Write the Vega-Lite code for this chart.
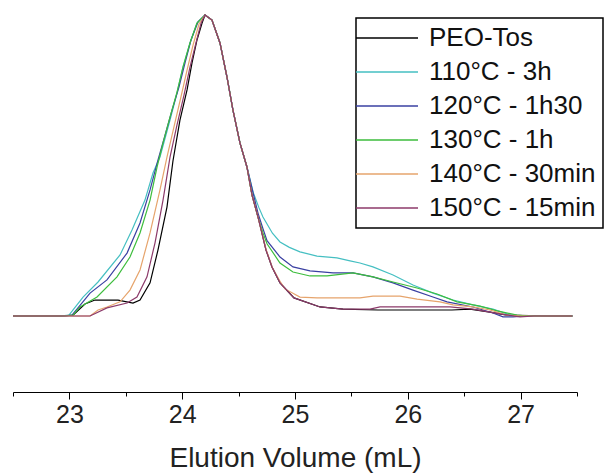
{
  "$schema": "https://vega.github.io/schema/vega-lite/v6.json",
  "width": 564,
  "height": 377,
  "autosize": "none",
  "padding": {"left": 13, "top": 15, "right": 32, "bottom": 81},
  "background": "white",
  "config": {"view": {"stroke": null}},
  "datasets": {
    "curves": [
      {"series": "PEO-Tos", "volume": 22.5, "signal": 0},
      {"series": "PEO-Tos", "volume": 22.917, "signal": 0},
      {"series": "PEO-Tos", "volume": 23.032, "signal": 0.003},
      {"series": "PEO-Tos", "volume": 23.138, "signal": 0.04},
      {"series": "PEO-Tos", "volume": 23.227, "signal": 0.053},
      {"series": "PEO-Tos", "volume": 23.431, "signal": 0.053},
      {"series": "PEO-Tos", "volume": 23.564, "signal": 0.043},
      {"series": "PEO-Tos", "volume": 23.626, "signal": 0.053},
      {"series": "PEO-Tos", "volume": 23.715, "signal": 0.11},
      {"series": "PEO-Tos", "volume": 23.785, "signal": 0.219},
      {"series": "PEO-Tos", "volume": 23.865, "signal": 0.362},
      {"series": "PEO-Tos", "volume": 23.918, "signal": 0.515},
      {"series": "PEO-Tos", "volume": 23.98, "signal": 0.651},
      {"series": "PEO-Tos", "volume": 24.043, "signal": 0.751},
      {"series": "PEO-Tos", "volume": 24.087, "signal": 0.841},
      {"series": "PEO-Tos", "volume": 24.131, "signal": 0.917},
      {"series": "PEO-Tos", "volume": 24.176, "signal": 0.973},
      {"series": "PEO-Tos", "volume": 24.202, "signal": 1},
      {"series": "PEO-Tos", "volume": 24.264, "signal": 0.983},
      {"series": "PEO-Tos", "volume": 24.335, "signal": 0.907},
      {"series": "PEO-Tos", "volume": 24.397, "signal": 0.794},
      {"series": "PEO-Tos", "volume": 24.45, "signal": 0.684},
      {"series": "PEO-Tos", "volume": 24.512, "signal": 0.575},
      {"series": "PEO-Tos", "volume": 24.574, "signal": 0.495},
      {"series": "PEO-Tos", "volume": 24.619, "signal": 0.402},
      {"series": "PEO-Tos", "volume": 24.672, "signal": 0.329},
      {"series": "PEO-Tos", "volume": 24.743, "signal": 0.219},
      {"series": "PEO-Tos", "volume": 24.796, "signal": 0.163},
      {"series": "PEO-Tos", "volume": 24.867, "signal": 0.11},
      {"series": "PEO-Tos", "volume": 24.991, "signal": 0.06},
      {"series": "PEO-Tos", "volume": 25.222, "signal": 0.03},
      {"series": "PEO-Tos", "volume": 25.426, "signal": 0.023},
      {"series": "PEO-Tos", "volume": 25.736, "signal": 0.02},
      {"series": "PEO-Tos", "volume": 26.392, "signal": 0.02},
      {"series": "PEO-Tos", "volume": 26.551, "signal": 0.023},
      {"series": "PEO-Tos", "volume": 26.729, "signal": 0.013},
      {"series": "PEO-Tos", "volume": 26.879, "signal": 0.003},
      {"series": "PEO-Tos", "volume": 27.261, "signal": 0},
      {"series": "PEO-Tos", "volume": 27.46, "signal": 0},

      {"series": "110°C - 3h", "volume": 22.5, "signal": 0},
      {"series": "110°C - 3h", "volume": 22.917, "signal": 0},
      {"series": "110°C - 3h", "volume": 22.996, "signal": 0.003},
      {"series": "110°C - 3h", "volume": 23.121, "signal": 0.063},
      {"series": "110°C - 3h", "volume": 23.254, "signal": 0.113},
      {"series": "110°C - 3h", "volume": 23.449, "signal": 0.203},
      {"series": "110°C - 3h", "volume": 23.555, "signal": 0.286},
      {"series": "110°C - 3h", "volume": 23.67, "signal": 0.385},
      {"series": "110°C - 3h", "volume": 23.741, "signal": 0.475},
      {"series": "110°C - 3h", "volume": 23.803, "signal": 0.528},
      {"series": "110°C - 3h", "volume": 23.892, "signal": 0.651},
      {"series": "110°C - 3h", "volume": 23.954, "signal": 0.741},
      {"series": "110°C - 3h", "volume": 24.007, "signal": 0.827},
      {"series": "110°C - 3h", "volume": 24.069, "signal": 0.907},
      {"series": "110°C - 3h", "volume": 24.131, "signal": 0.973},
      {"series": "110°C - 3h", "volume": 24.202, "signal": 1},
      {"series": "110°C - 3h", "volume": 24.264, "signal": 0.983},
      {"series": "110°C - 3h", "volume": 24.335, "signal": 0.907},
      {"series": "110°C - 3h", "volume": 24.397, "signal": 0.794},
      {"series": "110°C - 3h", "volume": 24.45, "signal": 0.684},
      {"series": "110°C - 3h", "volume": 24.512, "signal": 0.575},
      {"series": "110°C - 3h", "volume": 24.574, "signal": 0.495},
      {"series": "110°C - 3h", "volume": 24.63, "signal": 0.41},
      {"series": "110°C - 3h", "volume": 24.68, "signal": 0.36},
      {"series": "110°C - 3h", "volume": 24.716, "signal": 0.329},
      {"series": "110°C - 3h", "volume": 24.8, "signal": 0.275},
      {"series": "110°C - 3h", "volume": 24.867, "signal": 0.246},
      {"series": "110°C - 3h", "volume": 24.95, "signal": 0.228},
      {"series": "110°C - 3h", "volume": 25.044, "signal": 0.213},
      {"series": "110°C - 3h", "volume": 25.195, "signal": 0.199},
      {"series": "110°C - 3h", "volume": 25.372, "signal": 0.193},
      {"series": "110°C - 3h", "volume": 25.488, "signal": 0.183},
      {"series": "110°C - 3h", "volume": 25.576, "signal": 0.176},
      {"series": "110°C - 3h", "volume": 25.691, "signal": 0.163},
      {"series": "110°C - 3h", "volume": 25.869, "signal": 0.136},
      {"series": "110°C - 3h", "volume": 26.046, "signal": 0.103},
      {"series": "110°C - 3h", "volume": 26.223, "signal": 0.076},
      {"series": "110°C - 3h", "volume": 26.401, "signal": 0.053},
      {"series": "110°C - 3h", "volume": 26.578, "signal": 0.037},
      {"series": "110°C - 3h", "volume": 26.755, "signal": 0.023},
      {"series": "110°C - 3h", "volume": 26.879, "signal": 0.007},
      {"series": "110°C - 3h", "volume": 26.995, "signal": 0},
      {"series": "110°C - 3h", "volume": 27.46, "signal": 0},

      {"series": "120°C - 1h30", "volume": 22.5, "signal": 0},
      {"series": "120°C - 1h30", "volume": 22.95, "signal": 0},
      {"series": "120°C - 1h30", "volume": 23.023, "signal": 0.003},
      {"series": "120°C - 1h30", "volume": 23.183, "signal": 0.076},
      {"series": "120°C - 1h30", "volume": 23.333, "signal": 0.12},
      {"series": "120°C - 1h30", "volume": 23.511, "signal": 0.209},
      {"series": "120°C - 1h30", "volume": 23.626, "signal": 0.309},
      {"series": "120°C - 1h30", "volume": 23.715, "signal": 0.419},
      {"series": "120°C - 1h30", "volume": 23.785, "signal": 0.518},
      {"series": "120°C - 1h30", "volume": 23.848, "signal": 0.601},
      {"series": "120°C - 1h30", "volume": 23.91, "signal": 0.684},
      {"series": "120°C - 1h30", "volume": 23.972, "signal": 0.761},
      {"series": "120°C - 1h30", "volume": 24.025, "signal": 0.841},
      {"series": "120°C - 1h30", "volume": 24.078, "signal": 0.917},
      {"series": "120°C - 1h30", "volume": 24.14, "signal": 0.977},
      {"series": "120°C - 1h30", "volume": 24.202, "signal": 1},
      {"series": "120°C - 1h30", "volume": 24.264, "signal": 0.983},
      {"series": "120°C - 1h30", "volume": 24.335, "signal": 0.907},
      {"series": "120°C - 1h30", "volume": 24.397, "signal": 0.794},
      {"series": "120°C - 1h30", "volume": 24.45, "signal": 0.684},
      {"series": "120°C - 1h30", "volume": 24.512, "signal": 0.575},
      {"series": "120°C - 1h30", "volume": 24.574, "signal": 0.495},
      {"series": "120°C - 1h30", "volume": 24.628, "signal": 0.41},
      {"series": "120°C - 1h30", "volume": 24.672, "signal": 0.342},
      {"series": "120°C - 1h30", "volume": 24.716, "signal": 0.29},
      {"series": "120°C - 1h30", "volume": 24.752, "signal": 0.25},
      {"series": "120°C - 1h30", "volume": 24.867, "signal": 0.196},
      {"series": "120°C - 1h30", "volume": 24.982, "signal": 0.163},
      {"series": "120°C - 1h30", "volume": 25.133, "signal": 0.15},
      {"series": "120°C - 1h30", "volume": 25.337, "signal": 0.143},
      {"series": "120°C - 1h30", "volume": 25.514, "signal": 0.143},
      {"series": "120°C - 1h30", "volume": 25.691, "signal": 0.13},
      {"series": "120°C - 1h30", "volume": 25.869, "signal": 0.11},
      {"series": "120°C - 1h30", "volume": 26.046, "signal": 0.086},
      {"series": "120°C - 1h30", "volume": 26.223, "signal": 0.063},
      {"series": "120°C - 1h30", "volume": 26.348, "signal": 0.047},
      {"series": "120°C - 1h30", "volume": 26.578, "signal": 0.03},
      {"series": "120°C - 1h30", "volume": 26.755, "signal": 0.01},
      {"series": "120°C - 1h30", "volume": 26.844, "signal": -0.003},
      {"series": "120°C - 1h30", "volume": 26.933, "signal": -0.003},
      {"series": "120°C - 1h30", "volume": 27.04, "signal": 0},
      {"series": "120°C - 1h30", "volume": 27.46, "signal": 0},

      {"series": "130°C - 1h", "volume": 22.5, "signal": 0},
      {"series": "130°C - 1h", "volume": 22.95, "signal": 0},
      {"series": "130°C - 1h", "volume": 23.032, "signal": 0.003},
      {"series": "130°C - 1h", "volume": 23.094, "signal": 0.03},
      {"series": "130°C - 1h", "volume": 23.245, "signal": 0.063},
      {"series": "130°C - 1h", "volume": 23.422, "signal": 0.13},
      {"series": "130°C - 1h", "volume": 23.537, "signal": 0.196},
      {"series": "130°C - 1h", "volume": 23.626, "signal": 0.276},
      {"series": "130°C - 1h", "volume": 23.715, "signal": 0.385},
      {"series": "130°C - 1h", "volume": 23.777, "signal": 0.495},
      {"series": "130°C - 1h", "volume": 23.83, "signal": 0.575},
      {"series": "130°C - 1h", "volume": 23.892, "signal": 0.661},
      {"series": "130°C - 1h", "volume": 23.954, "signal": 0.744},
      {"series": "130°C - 1h", "volume": 24.007, "signal": 0.827},
      {"series": "130°C - 1h", "volume": 24.069, "signal": 0.907},
      {"series": "130°C - 1h", "volume": 24.131, "signal": 0.973},
      {"series": "130°C - 1h", "volume": 24.202, "signal": 1},
      {"series": "130°C - 1h", "volume": 24.264, "signal": 0.983},
      {"series": "130°C - 1h", "volume": 24.335, "signal": 0.907},
      {"series": "130°C - 1h", "volume": 24.397, "signal": 0.794},
      {"series": "130°C - 1h", "volume": 24.45, "signal": 0.684},
      {"series": "130°C - 1h", "volume": 24.512, "signal": 0.575},
      {"series": "130°C - 1h", "volume": 24.574, "signal": 0.495},
      {"series": "130°C - 1h", "volume": 24.619, "signal": 0.402},
      {"series": "130°C - 1h", "volume": 24.672, "signal": 0.329},
      {"series": "130°C - 1h", "volume": 24.716, "signal": 0.276},
      {"series": "130°C - 1h", "volume": 24.752, "signal": 0.24},
      {"series": "130°C - 1h", "volume": 24.867, "signal": 0.176},
      {"series": "130°C - 1h", "volume": 24.982, "signal": 0.146},
      {"series": "130°C - 1h", "volume": 25.133, "signal": 0.133},
      {"series": "130°C - 1h", "volume": 25.284, "signal": 0.133},
      {"series": "130°C - 1h", "volume": 25.514, "signal": 0.143},
      {"series": "130°C - 1h", "volume": 25.691, "signal": 0.13},
      {"series": "130°C - 1h", "volume": 25.869, "signal": 0.113},
      {"series": "130°C - 1h", "volume": 26.082, "signal": 0.093},
      {"series": "130°C - 1h", "volume": 26.259, "signal": 0.073},
      {"series": "130°C - 1h", "volume": 26.436, "signal": 0.047},
      {"series": "130°C - 1h", "volume": 26.64, "signal": 0.033},
      {"series": "130°C - 1h", "volume": 26.791, "signal": 0.017},
      {"series": "130°C - 1h", "volume": 26.968, "signal": 0.003},
      {"series": "130°C - 1h", "volume": 27.07, "signal": 0},
      {"series": "130°C - 1h", "volume": 27.46, "signal": 0},

      {"series": "140°C - 30min", "volume": 22.5, "signal": 0},
      {"series": "140°C - 30min", "volume": 23.183, "signal": 0},
      {"series": "140°C - 30min", "volume": 23.254, "signal": 0.02},
      {"series": "140°C - 30min", "volume": 23.333, "signal": 0.03},
      {"series": "140°C - 30min", "volume": 23.449, "signal": 0.047},
      {"series": "140°C - 30min", "volume": 23.537, "signal": 0.086},
      {"series": "140°C - 30min", "volume": 23.626, "signal": 0.153},
      {"series": "140°C - 30min", "volume": 23.715, "signal": 0.276},
      {"series": "140°C - 30min", "volume": 23.803, "signal": 0.419},
      {"series": "140°C - 30min", "volume": 23.865, "signal": 0.528},
      {"series": "140°C - 30min", "volume": 23.927, "signal": 0.628},
      {"series": "140°C - 30min", "volume": 23.989, "signal": 0.728},
      {"series": "140°C - 30min", "volume": 24.043, "signal": 0.817},
      {"series": "140°C - 30min", "volume": 24.096, "signal": 0.9},
      {"series": "140°C - 30min", "volume": 24.149, "signal": 0.97},
      {"series": "140°C - 30min", "volume": 24.202, "signal": 1},
      {"series": "140°C - 30min", "volume": 24.264, "signal": 0.983},
      {"series": "140°C - 30min", "volume": 24.335, "signal": 0.907},
      {"series": "140°C - 30min", "volume": 24.397, "signal": 0.794},
      {"series": "140°C - 30min", "volume": 24.45, "signal": 0.684},
      {"series": "140°C - 30min", "volume": 24.512, "signal": 0.575},
      {"series": "140°C - 30min", "volume": 24.574, "signal": 0.495},
      {"series": "140°C - 30min", "volume": 24.619, "signal": 0.402},
      {"series": "140°C - 30min", "volume": 24.672, "signal": 0.329},
      {"series": "140°C - 30min", "volume": 24.743, "signal": 0.222},
      {"series": "140°C - 30min", "volume": 24.8, "signal": 0.16},
      {"series": "140°C - 30min", "volume": 24.867, "signal": 0.115},
      {"series": "140°C - 30min", "volume": 24.911, "signal": 0.09},
      {"series": "140°C - 30min", "volume": 25.044, "signal": 0.063},
      {"series": "140°C - 30min", "volume": 25.195, "signal": 0.06},
      {"series": "140°C - 30min", "volume": 25.576, "signal": 0.06},
      {"series": "140°C - 30min", "volume": 25.691, "signal": 0.066},
      {"series": "140°C - 30min", "volume": 25.931, "signal": 0.066},
      {"series": "140°C - 30min", "volume": 26.082, "signal": 0.056},
      {"series": "140°C - 30min", "volume": 26.285, "signal": 0.047},
      {"series": "140°C - 30min", "volume": 26.401, "signal": 0.037},
      {"series": "140°C - 30min", "volume": 26.578, "signal": 0.03},
      {"series": "140°C - 30min", "volume": 26.729, "signal": 0.02},
      {"series": "140°C - 30min", "volume": 26.879, "signal": 0.003},
      {"series": "140°C - 30min", "volume": 27.0, "signal": 0},
      {"series": "140°C - 30min", "volume": 27.46, "signal": 0},

      {"series": "150°C - 15min", "volume": 22.5, "signal": 0},
      {"series": "150°C - 15min", "volume": 23.183, "signal": 0},
      {"series": "150°C - 15min", "volume": 23.333, "signal": 0.027},
      {"series": "150°C - 15min", "volume": 23.511, "signal": 0.043},
      {"series": "150°C - 15min", "volume": 23.599, "signal": 0.063},
      {"series": "150°C - 15min", "volume": 23.688, "signal": 0.13},
      {"series": "150°C - 15min", "volume": 23.759, "signal": 0.243},
      {"series": "150°C - 15min", "volume": 23.83, "signal": 0.385},
      {"series": "150°C - 15min", "volume": 23.892, "signal": 0.528},
      {"series": "150°C - 15min", "volume": 23.954, "signal": 0.635},
      {"series": "150°C - 15min", "volume": 24.016, "signal": 0.734},
      {"series": "150°C - 15min", "volume": 24.069, "signal": 0.827},
      {"series": "150°C - 15min", "volume": 24.122, "signal": 0.907},
      {"series": "150°C - 15min", "volume": 24.167, "signal": 0.973},
      {"series": "150°C - 15min", "volume": 24.202, "signal": 1},
      {"series": "150°C - 15min", "volume": 24.264, "signal": 0.983},
      {"series": "150°C - 15min", "volume": 24.335, "signal": 0.907},
      {"series": "150°C - 15min", "volume": 24.397, "signal": 0.794},
      {"series": "150°C - 15min", "volume": 24.45, "signal": 0.684},
      {"series": "150°C - 15min", "volume": 24.512, "signal": 0.575},
      {"series": "150°C - 15min", "volume": 24.574, "signal": 0.495},
      {"series": "150°C - 15min", "volume": 24.619, "signal": 0.402},
      {"series": "150°C - 15min", "volume": 24.672, "signal": 0.329},
      {"series": "150°C - 15min", "volume": 24.743, "signal": 0.219},
      {"series": "150°C - 15min", "volume": 24.796, "signal": 0.163},
      {"series": "150°C - 15min", "volume": 24.867, "signal": 0.11},
      {"series": "150°C - 15min", "volume": 24.991, "signal": 0.06},
      {"series": "150°C - 15min", "volume": 25.222, "signal": 0.03},
      {"series": "150°C - 15min", "volume": 25.426, "signal": 0.023},
      {"series": "150°C - 15min", "volume": 25.665, "signal": 0.023},
      {"series": "150°C - 15min", "volume": 25.754, "signal": 0.03},
      {"series": "150°C - 15min", "volume": 26.374, "signal": 0.03},
      {"series": "150°C - 15min", "volume": 26.578, "signal": 0.023},
      {"series": "150°C - 15min", "volume": 26.817, "signal": 0.007},
      {"series": "150°C - 15min", "volume": 26.995, "signal": -0.003},
      {"series": "150°C - 15min", "volume": 27.12, "signal": 0},
      {"series": "150°C - 15min", "volume": 27.46, "signal": 0}
    ]
  },
  "data": {"name": "curves"},
  "mark": {"type": "line", "strokeWidth": 1.2, "interpolate": "linear"},
  "encoding": {
    "x": {
      "field": "volume",
      "type": "quantitative",
      "scale": {"domain": [22.5, 27.5], "nice": false, "zero": false},
      "axis": {
        "title": "Elution Volume (mL)",
        "values": [22.5, 23, 23.5, 24, 24.5, 25, 25.5, 26, 26.5, 27, 27.5],
        "labelExpr": "datum.value % 1 === 0 ? format(datum.value, 'd') : ''",
        "tickSize": {"condition": {"test": "datum.value % 1 === 0", "value": 7}, "value": 4},
        "tickColor": "black",
        "tickWidth": 1,
        "domainColor": "black",
        "domainWidth": 1,
        "grid": false,
        "labelFont": "Liberation Sans",
        "labelFontSize": 25,
        "labelColor": "#222222",
        "labelPadding": 3,
        "labelFlush": false,
        "labelOverlap": false,
        "titleFont": "Liberation Sans",
        "titleFontSize": 28,
        "titleFontWeight": "normal",
        "titleColor": "#222222",
        "titlePadding": 17
      }
    },
    "y": {
      "field": "signal",
      "type": "quantitative",
      "scale": {"domain": [-0.2525, 1], "nice": false, "zero": false},
      "axis": null
    },
    "color": {
      "field": "series",
      "type": "nominal",
      "scale": {
        "domain": ["PEO-Tos", "110°C - 3h", "120°C - 1h30", "130°C - 1h", "140°C - 30min", "150°C - 15min"],
        "range": ["#000000", "#45bfc2", "#3a40a2", "#3dbd3d", "#e6a46c", "#8c3a6a"]
      },
      "legend": {
        "orient": "none",
        "legendX": 343,
        "legendY": 3,
        "title": null,
        "strokeColor": "black",
        "fillColor": "white",
        "padding": 7,
        "symbolType": "M-3.1,0H3.1",
        "symbolSize": 400,
        "symbolStrokeWidth": 1.5,
        "symbolOffset": 11,
        "labelOffset": 29,
        "labelFont": "Liberation Sans",
        "labelFontSize": 26,
        "labelColor": "#111111",
        "labelLimit": 400,
        "rowPadding": 8,
        "encode": {"legend": {"update": {"strokeWidth": {"value": 1.5}}}}
      }
    }
  }
}
